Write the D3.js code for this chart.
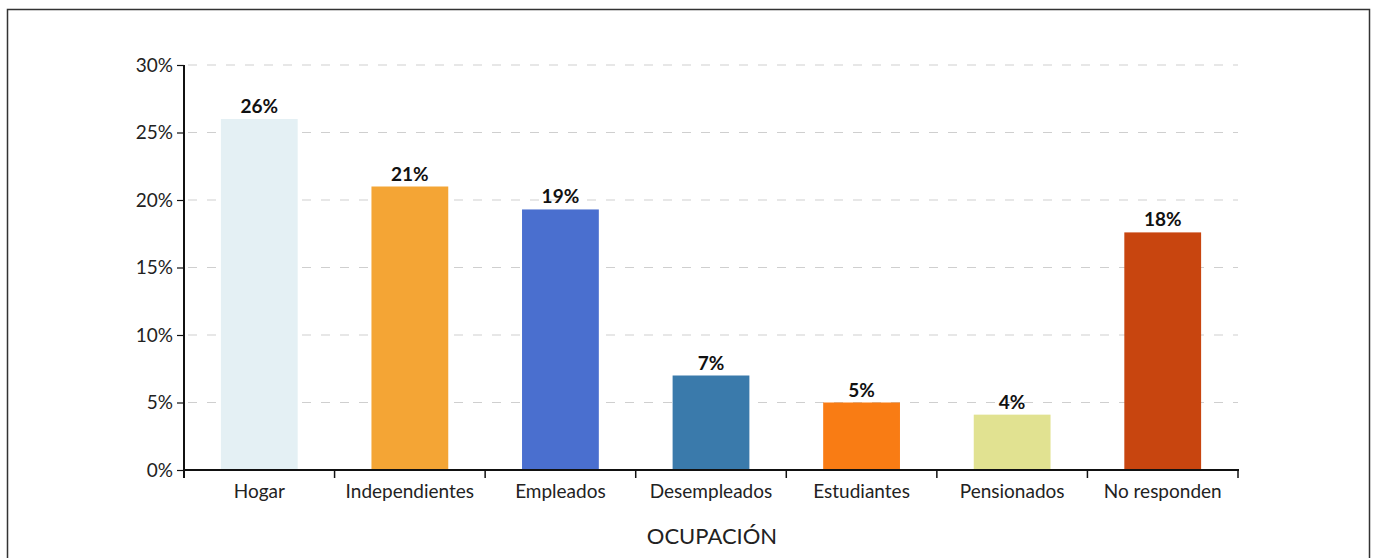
<!DOCTYPE html>
<html><head><meta charset="utf-8">
<script src="https://cdn.jsdelivr.net/npm/d3@7"></script>
<style>body{margin:0;background:#fff}svg{display:block}</style>
</head><body>
<svg id="c" width="1373" height="558"></svg>
<script>
const categories = ["Hogar","Independientes","Empleados","Desempleados","Estudiantes","Pensionados","No responden"];
const values = [26, 21, 19.3, 7, 5, 4.1, 17.6];
const colors = ["#e4f0f4","#f4a535","#4a6fcf","#3a7aab","#f97c14","#e1e291","#c8450f"];
const yTicks = [0,5,10,15,20,25,30];
const xTitle = "OCUPACIÓN";

const svg = d3.select("#c");
const font = "Lato, 'Open Sans', sans-serif";
// frame
svg.append("rect").attr("x",7.5).attr("y",9.5).attr("width",1362).attr("height",560)
  .attr("fill","none").attr("stroke","#333").attr("stroke-width",1.5);

const x0 = 184, x1 = 1238, yTop = 65, yBot = 470;
const x = d3.scaleBand().domain(categories).range([x0,x1]).paddingInner(0.49).paddingOuter(0.245);
const xb = d3.scaleBand().domain(categories).range([x0,x1]);
const y = d3.scaleLinear().domain([0,30]).range([yBot,yTop]);

// grid
svg.append("g").selectAll("line").data(yTicks.filter(d=>d>0)).join("line")
  .attr("x1",x0+4).attr("x2",x1).attr("y1",d=>y(d)).attr("y2",d=>y(d))
  .attr("stroke","#cfcfcf").attr("stroke-width",1).attr("stroke-dasharray","9,10");

// bars
svg.append("g").selectAll("rect").data(values).join("rect")
  .attr("x",(d,i)=>x(categories[i])).attr("width",x.bandwidth())
  .attr("y",d=>y(d)).attr("height",d=>yBot-y(d))
  .attr("fill",(d,i)=>colors[i]);

// value labels
svg.append("g").selectAll("text").data(values).join("text")
  .attr("x",(d,i)=>x(categories[i])+x.bandwidth()/2).attr("y",d=>y(d)-6)
  .attr("text-anchor","middle").attr("font-family",font).attr("font-weight","bold")
  .attr("font-size",19).attr("fill","#111").text(d=>d3.format(".0f")(d)+"%");

// y axis
const ya = d3.axisLeft(y).tickValues(yTicks).tickFormat(d=>d+"%").tickSize(7);
const gy = svg.append("g").attr("transform",`translate(${x0},0)`).call(ya);
gy.select(".domain").attr("stroke","#111").attr("stroke-width",2).attr("d",`M0,${yTop}V${yBot+8}`);
gy.selectAll(".tick line").attr("stroke","#111").attr("stroke-width",1.2);
gy.selectAll("text").attr("font-family",font).attr("font-size",19).attr("fill","#222").attr("dx",-1);

// x axis
const gx = svg.append("g");
gx.append("line").attr("x1",x0).attr("x2",x1+1).attr("y1",yBot).attr("y2",yBot).attr("stroke","#111").attr("stroke-width",2);
const bounds = categories.map(c=>xb(c)+xb.bandwidth());
gx.selectAll("line.t").data(bounds).join("line").attr("class","t")
  .attr("x1",d=>d).attr("x2",d=>d).attr("y1",yBot).attr("y2",yBot+8)
  .attr("stroke","#111").attr("stroke-width",1.5);
gx.selectAll("text").data(categories).join("text")
  .attr("x",d=>xb(d)+xb.bandwidth()/2).attr("y",yBot+28)
  .attr("text-anchor","middle").attr("font-family",font).attr("font-size",19).attr("fill","#222").text(d=>d);

svg.append("text").attr("x",(x0+x1)/2+1).attr("y",544).attr("text-anchor","middle")
  .attr("font-family",font).attr("font-size",22).attr("fill","#222").text(xTitle);
</script>
</body></html>
